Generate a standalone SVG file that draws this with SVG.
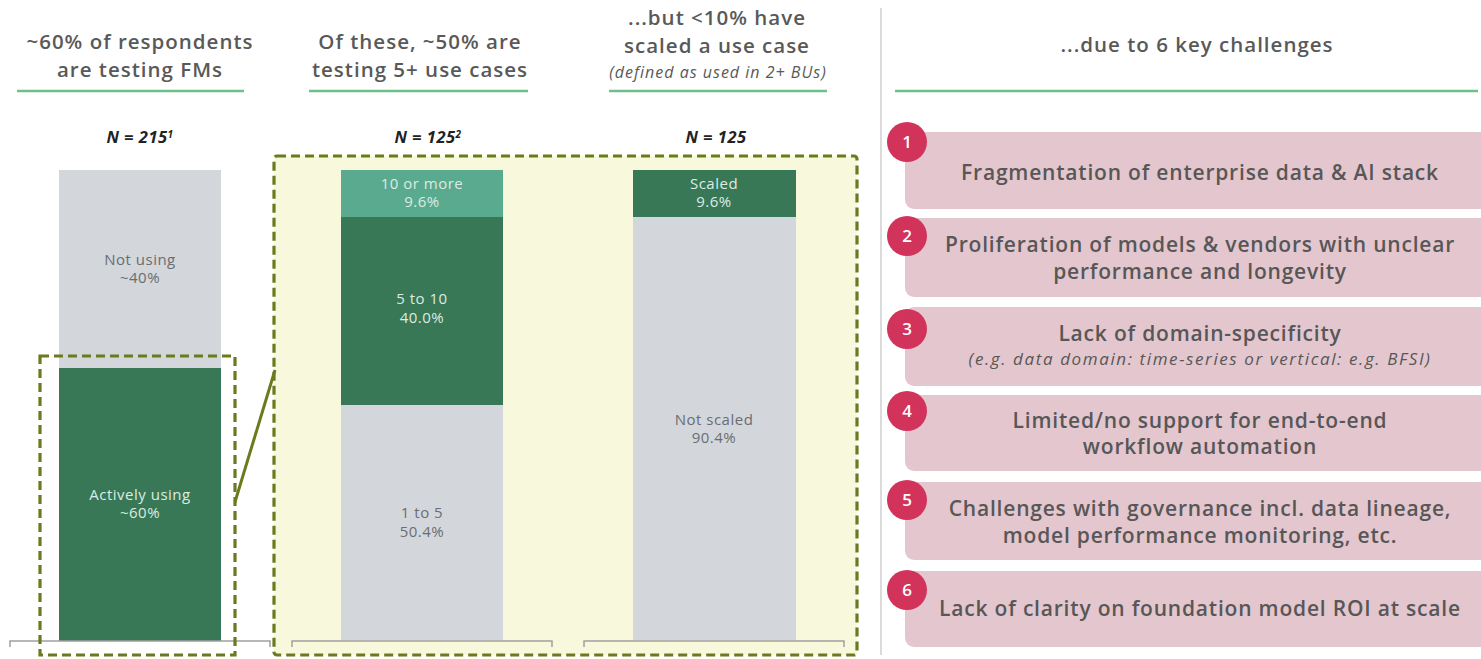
<svg xmlns="http://www.w3.org/2000/svg" width="1481" height="659" viewBox="0 0 1481 659">
<defs>
<style>
.hd{font-family:"Open Sans","Liberation Sans",sans-serif;font-weight:600;font-size:20.5px;letter-spacing:1px;fill:#595959;text-anchor:middle}
.hdi{font-family:"Open Sans","Liberation Sans",sans-serif;font-style:italic;font-weight:400;font-size:16px;letter-spacing:1px;fill:#595959;text-anchor:middle}
.ul{stroke:#6cc08a;stroke-width:2.5}
.n{font-family:"Open Sans","Liberation Sans",sans-serif;font-weight:700;font-style:italic;font-size:16.5px;letter-spacing:0.5px;fill:#222;text-anchor:middle}
.lbl{font-family:"Open Sans","Liberation Sans",sans-serif;font-size:15px;letter-spacing:0.5px;text-anchor:middle}
.lg{fill:#6a6d72}
.lw{fill:#dcece2}
.gray{fill:#d3d7db}
.dg{fill:#387856}
.tg{fill:#5aaa8f}
.axis{fill:none;stroke:#a0a0a0;stroke-width:1.5}
.dash{fill:none;stroke:#6b7a1f;stroke-width:3.2;stroke-dasharray:9 5}
.box{fill:#e4c6ce}
.circ{fill:#d2335b}
.num{font-family:"Open Sans","Liberation Sans",sans-serif;font-weight:600;font-size:17px;fill:#fff;text-anchor:middle}
.bt{font-family:"Open Sans","Liberation Sans",sans-serif;font-weight:600;font-size:21px;letter-spacing:0.8px;fill:#575757;text-anchor:middle}
.bti{font-family:"Open Sans","Liberation Sans",sans-serif;font-style:italic;font-weight:400;font-size:17px;letter-spacing:1.6px;fill:#575757;text-anchor:middle}
</style>
</defs>
<rect width="1481" height="659" fill="#fff"/>

<g id="headers">
<text class="hd" x="140" y="49">~60% of respondents<tspan x="140" dy="28">are testing FMs</tspan></text>
<line class="ul" x1="17" y1="91" x2="244" y2="91"/>
<text class="hd" x="420" y="49">Of these, ~50% are<tspan x="420" dy="28">testing 5+ use cases</tspan></text>
<line class="ul" x1="309" y1="91" x2="528" y2="91"/>
<text class="hd" x="717" y="25">...but &lt;10% have<tspan x="717" dy="28">scaled a use case</tspan></text>
<text class="hdi" x="718" y="78">(defined as used in 2+ BUs)</text>
<line class="ul" x1="609" y1="91" x2="827" y2="91"/>
<text class="hd" x="1197" y="52">...due to 6 key challenges</text>
<line class="ul" x1="895" y1="91" x2="1478" y2="91"/>
</g>

<line id="separator" x1="881" y1="8" x2="881" y2="655" stroke="#cfcfcf" stroke-width="1.5"/>

<g id="n-labels">
<text class="n" x="140" y="143">N = 215<tspan font-size="10" dy="-5">1</tspan></text>
<text class="n" x="428" y="143">N = 125<tspan font-size="10" dy="-5">2</tspan></text>
<text class="n" x="716" y="143">N = 125</text>
</g>

<g id="zoom-panel">
<rect x="274" y="156" width="583" height="499" fill="#f8f8dc"/>
</g>

<g id="bar-all">
<rect class="gray" x="59" y="170" width="162" height="198"/>
<rect class="dg" x="59" y="368" width="162" height="273"/>
<text class="lbl lg" x="140" y="265">Not using<tspan x="140" dy="18">~40%</tspan></text>
<text class="lbl lw" x="140" y="500">Actively using<tspan x="140" dy="18">~60%</tspan></text>
<path class="axis" d="M10 647 V641 H270 V647"/>
</g>

<g id="bar-usecases">
<rect class="tg" x="341" y="170" width="162" height="47"/>
<rect class="dg" x="341" y="217" width="162" height="188"/>
<rect class="gray" x="341" y="405" width="162" height="235"/>
<text class="lbl lw" x="422" y="189">10 or more<tspan x="422" dy="18">9.6%</tspan></text>
<text class="lbl lw" x="422" y="304">5 to 10<tspan x="422" dy="19">40.0%</tspan></text>
<text class="lbl lg" x="422" y="518">1 to 5<tspan x="422" dy="19">50.4%</tspan></text>
<path class="axis" d="M292 647 V641 H552 V647"/>
</g>

<g id="bar-scaled">
<rect class="dg" x="633" y="170" width="163" height="47"/>
<rect class="gray" x="633" y="217" width="163" height="423"/>
<text class="lbl lw" x="714" y="189">Scaled<tspan x="714" dy="18">9.6%</tspan></text>
<text class="lbl lg" x="714" y="425">Not scaled<tspan x="714" dy="18">90.4%</tspan></text>
<path class="axis" d="M584 647 V641 H844 V647"/>
</g>

<g id="connectors">
<rect class="dash" x="40" y="356" width="195" height="299"/>
<rect class="dash" x="274" y="156" width="583" height="499" rx="3"/>
<line x1="235" y1="502" x2="275" y2="370" stroke="#6b7a1f" stroke-width="3"/>
</g>

<g id="challenge-1">
<rect class="box" x="905" y="132" width="590" height="77" rx="9"/>
<circle class="circ" cx="907" cy="142" r="20"/>
<text class="num" x="907" y="148">1</text>
<text class="bt" x="1200" y="180">Fragmentation of enterprise data &amp; AI stack</text>
</g>
<g id="challenge-2">
<rect class="box" x="905" y="218" width="590" height="79" rx="9"/>
<circle class="circ" cx="907" cy="236" r="20"/>
<text class="num" x="907" y="242">2</text>
<text class="bt" x="1200" y="252">Proliferation of models &amp; vendors with unclear<tspan x="1200" dy="27">performance and longevity</tspan></text>
</g>
<g id="challenge-3">
<rect class="box" x="905" y="307" width="590" height="79" rx="9"/>
<circle class="circ" cx="907" cy="329" r="20"/>
<text class="num" x="907" y="335">3</text>
<text class="bt" x="1200" y="341">Lack of domain-specificity<tspan class="bti" x="1200" dy="24">(e.g. data domain: time-series or vertical: e.g. BFSI)</tspan></text>
</g>
<g id="challenge-4">
<rect class="box" x="905" y="395" width="590" height="76" rx="9"/>
<circle class="circ" cx="907" cy="411" r="20"/>
<text class="num" x="907" y="417">4</text>
<text class="bt" x="1200" y="428">Limited/no support for end-to-end<tspan x="1200" dy="26">workflow automation</tspan></text>
</g>
<g id="challenge-5">
<rect class="box" x="905" y="482" width="590" height="78" rx="9"/>
<circle class="circ" cx="907" cy="500" r="20"/>
<text class="num" x="907" y="506">5</text>
<text class="bt" x="1200" y="516">Challenges with governance incl. data lineage,<tspan x="1200" dy="27">model performance monitoring, etc.</tspan></text>
</g>
<g id="challenge-6">
<rect class="box" x="905" y="571" width="590" height="76" rx="9"/>
<circle class="circ" cx="907" cy="590" r="20"/>
<text class="num" x="907" y="596">6</text>
<text class="bt" x="1200" y="616">Lack of clarity on foundation model ROI at scale</text>
</g>
</svg>
